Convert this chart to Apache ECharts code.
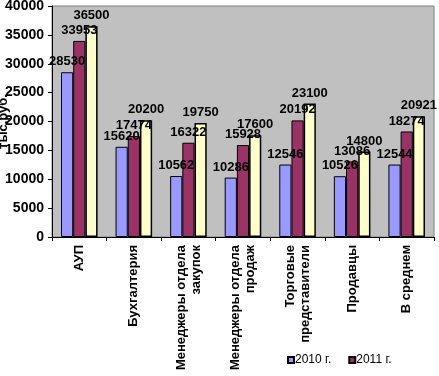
<!DOCTYPE html>
<html><head><meta charset="utf-8">
<script src="https://cdn.jsdelivr.net/npm/echarts@6/dist/echarts.min.js"></script>
<style>html,body{margin:0;padding:0;background:#fff}#c{width:439px;height:376px}</style>
</head><body><div id="c"></div>
<script>
const categories = ['АУП','Бухгалтерия','Менеджеры отдела\nзакупок','Менеджеры отдела\nпродаж','Торговые\nпредставители','Продавцы','В среднем'];
const seriesNames = ['2010 г.','2011 г.','2012 г.'];
const values2010 = [28530,15620,10562,10286,12546,10526,12544];
const values2011 = [33953,17474,16322,15928,20192,13086,18274];
const values2012 = [36500,20200,19750,17600,23100,14800,20921];
const yTicks = {min:0, max:40000, interval:5000};
const colors = ['#9999FF','#993366','#FFFFCC'];
const FF = 'Arial, "Liberation Sans", sans-serif';

const chart = echarts.init(document.getElementById('c'), null, {renderer:'canvas'});
const lab = {show:true, position:'top', distance:4, color:'#000', fontFamily:FF, fontWeight:'bold', fontSize:13};
const data = [values2010, values2011, values2012];
chart.setOption({
  animation:false,
  grid:{left:52, right:5, top:6, bottom:139, containLabel:false, outerBoundsMode:'none', show:true, backgroundColor:'#C0C0C0', borderColor:'#808080', borderWidth:1},
  legend:{data:[seriesNames[0], seriesNames[1]], left:282, top:349, itemWidth:6, itemHeight:6, itemGap:17, icon:'rect',
    textStyle:{fontFamily:FF, fontSize:12, color:'#000', padding:[0,0,0,-4]}},
  xAxis:{type:'category', data:categories,
    axisLine:{lineStyle:{color:'#000', width:1}},
    axisTick:{show:true, length:4, lineStyle:{color:'#000'}},
    axisLabel:{rotate:90, interval:0, margin:8, fontFamily:FF, fontSize:13, fontWeight:'bold', color:'#000', lineHeight:15}},
  yAxis:{type:'value', min:yTicks.min, max:yTicks.max, interval:yTicks.interval,
    name:'тыс.руб.', nameLocation:'middle', nameGap:42, nameMoveOverlap:false,
    nameTextStyle:{fontFamily:FF, fontSize:13, fontWeight:'bold', color:'#000'},
    axisLine:{show:true, lineStyle:{color:'#000'}},
    axisTick:{show:true, length:4, lineStyle:{color:'#000'}},
    splitLine:{show:false},
    axisLabel:{margin:8, fontFamily:FF, fontSize:14, fontWeight:'bold', color:'#000', formatter:v=>String(v)}},
  series: data.map((d,i)=>({
    name:seriesNames[i], type:'bar', data:d, barGap:'0%', barCategoryGap:'33%',
    itemStyle:{color:colors[i], borderColor:'#000', borderWidth: i===2?1.5:1},
    label:lab
  }))
});
</script></body></html>
